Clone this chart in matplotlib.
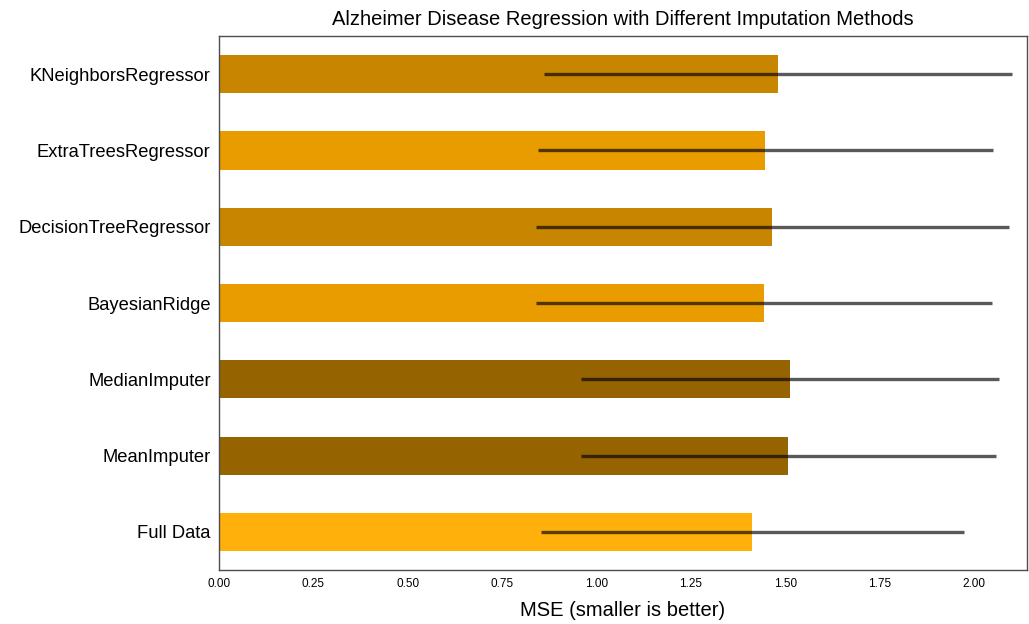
import matplotlib
matplotlib.use('Agg')
import numpy as np
import matplotlib.pyplot as plt

# values (bottom to top)
methods = ['Full Data', 'MeanImputer', 'MedianImputer', 'BayesianRidge',
           'DecisionTreeRegressor', 'ExtraTreesRegressor', 'KNeighborsRegressor']
mse_mean = [1.412, 1.508, 1.513, 1.444, 1.466, 1.447, 1.481]
mse_std = [0.560, 0.550, 0.553, 0.603, 0.627, 0.602, 0.619]
colors = ['#ffb00b', '#956300', '#956300', '#e89c00', '#c88600', '#e89c00', '#c88600']

plt.rcParams['font.family'] = ['Liberation Sans', 'DejaVu Sans']

fig = plt.figure(figsize=(10.29, 6.24), dpi=100)
ax = fig.add_axes([0.2128, 0.0865, 0.7852, 0.8558])

y = np.arange(len(methods))
ax.barh(y, mse_mean, height=0.5, xerr=mse_std, color=colors,
        edgecolor='none', error_kw=dict(ecolor=(0, 0, 0, 0.65), elinewidth=2.4, capsize=0))

ax.set_xlim(0, 2.14)
ax.set_ylim(-0.5, 6.5)
ax.set_yticks(y)
ax.set_yticklabels(methods, fontsize=13.2)
ax.set_xticks(np.arange(0, 2.01, 0.25))
ax.set_xticklabels(['%.2f' % v for v in np.arange(0, 2.01, 0.25)], fontsize=8.5)
ax.tick_params(axis='x', length=0, pad=6)
ax.tick_params(axis='y', length=0, pad=6)
for s in ax.spines.values():
    s.set_color('#4d4d4d')
    s.set_linewidth(1.0)

ax.set_title('Alzheimer Disease Regression with Different Imputation Methods', fontsize=14.5, pad=8)
ax.set_xlabel('MSE (smaller is better)', fontsize=14.5, labelpad=8)

fig.savefig('out.png', dpi=100)
